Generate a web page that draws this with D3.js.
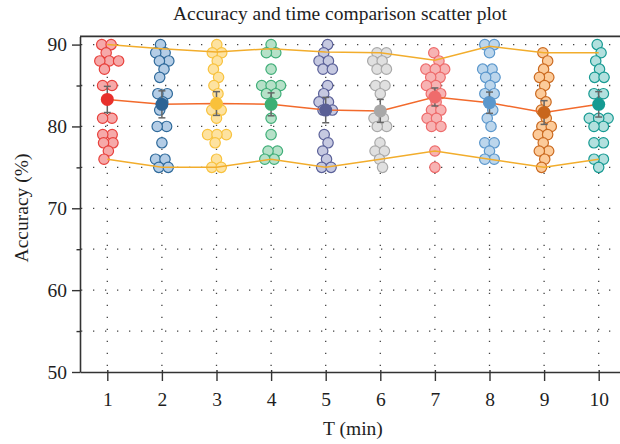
<!DOCTYPE html>
<html>
<head>
<meta charset="utf-8">
<script src="https://cdn.jsdelivr.net/npm/d3@7"></script>
<style>
  body { margin: 0; background: #fff; }
  text { font-family: "Liberation Serif", "DejaVu Serif", serif; fill: #1e1e1e; }
</style>
</head>
<body>
<svg id="chart" width="620" height="444"></svg>
<script>
// T (min) groups
const times = [1, 2, 3, 4, 5, 6, 7, 8, 9, 10];

// individual accuracy values (%) per group
const acc1 = [90, 90, 89, 88, 88, 88, 87, 85, 85, 81, 81, 79, 79, 78, 78, 77, 76];
const acc2 = [90, 89, 89, 88, 88, 87, 86, 84, 84, 83, 82, 80, 80, 78, 76, 76, 75, 75];
const acc3 = [90, 89, 89, 88, 87, 86, 85, 84, 82, 82, 81, 79, 79, 79, 78, 76, 75, 75];
const acc4 = [90, 89, 89, 87, 85, 85, 85, 84, 84, 81, 79, 77, 77, 76, 76];
const acc5 = [90, 89, 88, 88, 87, 87, 85, 84, 83, 83, 82, 82, 79, 78, 77, 76, 75, 75];
const acc6 = [89, 89, 88, 88, 87, 87, 85, 85, 84, 81, 81, 80, 80, 78, 77, 77, 76, 75];
const acc7 = [89, 88, 87, 87, 87, 86, 86, 85, 85, 84, 84, 83, 82, 82, 81, 81, 80, 80, 77, 75];
const acc8 = [90, 90, 89, 87, 87, 86, 86, 85, 84, 84, 83, 82, 81, 80, 78, 78, 77, 76, 76];
const acc9 = [89, 88, 87, 86, 86, 85, 84, 83, 82, 81, 80, 80, 79, 79, 78, 77, 77, 76, 75];
const acc10 = [90, 89, 88, 87, 86, 86, 84, 84, 81, 81, 81, 80, 80, 78, 78, 76, 76, 75];
const groups = [acc1, acc2, acc3, acc4, acc5, acc6, acc7, acc8, acc9, acc10];

// summary values
const means = [83.3, 82.7, 82.8, 82.7, 82.0, 81.9, 83.6, 82.9, 81.7, 82.7];
const errors = [1.6, 1.65, 1.45, 1.4, 1.55, 1.4, 1.1, 1.3, 1.45, 1.55];
const upperLine = [90, 89.5, 89.1, 89.5, 89.1, 89.0, 88.1, 89.8, 89.0, 89.0];
const lowerLine = [76, 75, 75, 76, 75, 76, 77, 76, 75, 76];

const yTicks = [50, 60, 70, 80, 90];
const yMinor = [55, 65, 75, 85];
const gridY = [55, 60, 65, 70, 75, 80, 85, 90];

const fills = ["#f6a9a9", "#b4cde6", "#fde2a0", "#b6e1c8", "#c6c9e1", "#e0e0e0", "#f7b3b3", "#bcd6ec", "#fccb9a", "#b2e0de"];
const strokes = ["#e8413c", "#2f6a9b", "#f8c23e", "#3fae78", "#5b6199", "#a9a9a9", "#ee6b6b", "#5b97cc", "#cb6a20", "#179a92"];
const meanColors = ["#e8302c", "#2d6394", "#f9c13a", "#3daf74", "#5a5f95", "#a8a8a8", "#ef6b6b", "#5b97cc", "#c8661c", "#169a92"];

const svg = d3.select("#chart");
const plotLeft = 80, plotBottom = 372, plotTop = 36.4;

const x = d3.scaleLinear().domain([0.5, 10.5]).range([plotLeft, 626]);
const y = d3.scaleLinear().domain([50, 91]).range([plotBottom, plotTop]);

// dotted grid
svg.append("g")
  .selectAll("line")
  .data(gridY)
  .join("line")
  .attr("x1", plotLeft + 1).attr("x2", 620)
  .attr("y1", d => y(d)).attr("y2", d => y(d))
  .attr("stroke", "#444")
  .attr("stroke-width", 1.3)
  .attr("stroke-dasharray", "1.3,10.7");

svg.append("g")
  .selectAll("line")
  .data(times)
  .join("line")
  .attr("x1", d => x(d)).attr("x2", d => x(d))
  .attr("y1", plotBottom - 6).attr("y2", y(90))
  .attr("stroke", "#444")
  .attr("stroke-width", 1.3)
  .attr("stroke-dasharray", "1.3,10.7");

// axes
const yAxis = svg.append("g")
  .attr("transform", `translate(${plotLeft},0)`)
  .call(d3.axisLeft(y).tickValues(yTicks).tickSize(8).tickSizeOuter(0));
svg.append("g")
  .attr("transform", `translate(${plotLeft},0)`)
  .call(d3.axisLeft(y).tickValues(yMinor).tickSize(3.5).tickFormat("").tickSizeOuter(0))
  .call(g => g.select(".domain").remove())
  .selectAll(".tick line").attr("stroke", "#333").attr("stroke-width", 1.4);

const xAxis = svg.append("g")
  .attr("transform", `translate(0,${plotBottom})`)
  .call(d3.axisBottom(x).tickValues(times).tickSize(9).tickSizeOuter(0));

[yAxis, xAxis].forEach(a => {
  a.select(".domain").attr("stroke", "#333").attr("stroke-width", 1.6);
  a.selectAll(".tick line").attr("stroke", "#333").attr("stroke-width", 1.4);
  a.selectAll(".tick text").attr("font-size", 19.5).attr("fill", "#1e1e1e")
    .style("font-family", "'Liberation Serif', serif");
});
yAxis.selectAll(".tick text").attr("x", -13);
xAxis.selectAll(".tick text").attr("y", 20);
xAxis.selectAll(".tick line").attr("y1", -2);

// top frame
svg.append("line")
  .attr("x1", plotLeft).attr("x2", 620)
  .attr("y1", plotTop).attr("y2", plotTop)
  .attr("stroke", "#333").attr("stroke-width", 1.6);

// beeswarm of points
groups.forEach((vals, gi) => {
  const cx = x(times[gi]);
  const nodes = vals.map((v, i) => ({ v, x: cx + (i % 2 ? 1.5 : -1.5) * ((i % 3) + 0.5), y: y(v) }));
  const sim = d3.forceSimulation(nodes)
    .force("x", d3.forceX(cx).strength(0.07))
    .force("y", d3.forceY(d => y(d.v)).strength(1))
    .force("collide", d3.forceCollide(4.7).strength(0.8))
    .stop();
  for (let k = 0; k < 300; k++) sim.tick();

  svg.append("g")
    .selectAll("circle")
    .data(nodes)
    .join("circle")
    .attr("cx", d => d.x)
    .attr("cy", d => y(d.v))
    .attr("r", 5.2)
    .attr("fill", fills[gi])
    .attr("stroke", strokes[gi])
    .attr("stroke-width", 1.2);
});

// upper / lower / mean lines
const line = d3.line().x((d, i) => x(times[i])).y(d => y(d));
svg.append("path").datum(upperLine).attr("d", line)
  .attr("fill", "none").attr("stroke", "#f2ad2c").attr("stroke-width", 1.5);
svg.append("path").datum(lowerLine).attr("d", line)
  .attr("fill", "none").attr("stroke", "#f2ad2c").attr("stroke-width", 1.5);
svg.append("path").datum(means).attr("d", line)
  .attr("fill", "none").attr("stroke", "#f26a2c").attr("stroke-width", 1.5);

// error bars
const eb = svg.append("g").attr("stroke", "#666").attr("stroke-width", 1.5);
means.forEach((m, i) => {
  const cx = x(times[i]);
  eb.append("line").attr("x1", cx).attr("x2", cx)
    .attr("y1", y(m + errors[i])).attr("y2", y(m - errors[i]));
  [m + errors[i], m - errors[i]].forEach(v => {
    eb.append("line").attr("x1", cx - 3.5).attr("x2", cx + 3.5)
      .attr("y1", y(v)).attr("y2", y(v));
  });
});

// mean markers
svg.append("g")
  .selectAll("circle")
  .data(means)
  .join("circle")
  .attr("cx", (d, i) => x(times[i]))
  .attr("cy", d => y(d))
  .attr("r", 6.5)
  .attr("fill", (d, i) => meanColors[i]);

// labels
svg.append("text")
  .attr("x", 340).attr("y", 20)
  .attr("text-anchor", "middle")
  .attr("font-size", 19.5)
  .text("Accuracy and time comparison scatter plot");

svg.append("text")
  .attr("x", 353).attr("y", 435)
  .attr("text-anchor", "middle")
  .attr("font-size", 19.5)
  .text("T (min)");

svg.append("text")
  .attr("transform", "translate(28,208) rotate(-90)")
  .attr("text-anchor", "middle")
  .attr("font-size", 19.5)
  .text("Accuracy (%)");
</script>
</body>
</html>
